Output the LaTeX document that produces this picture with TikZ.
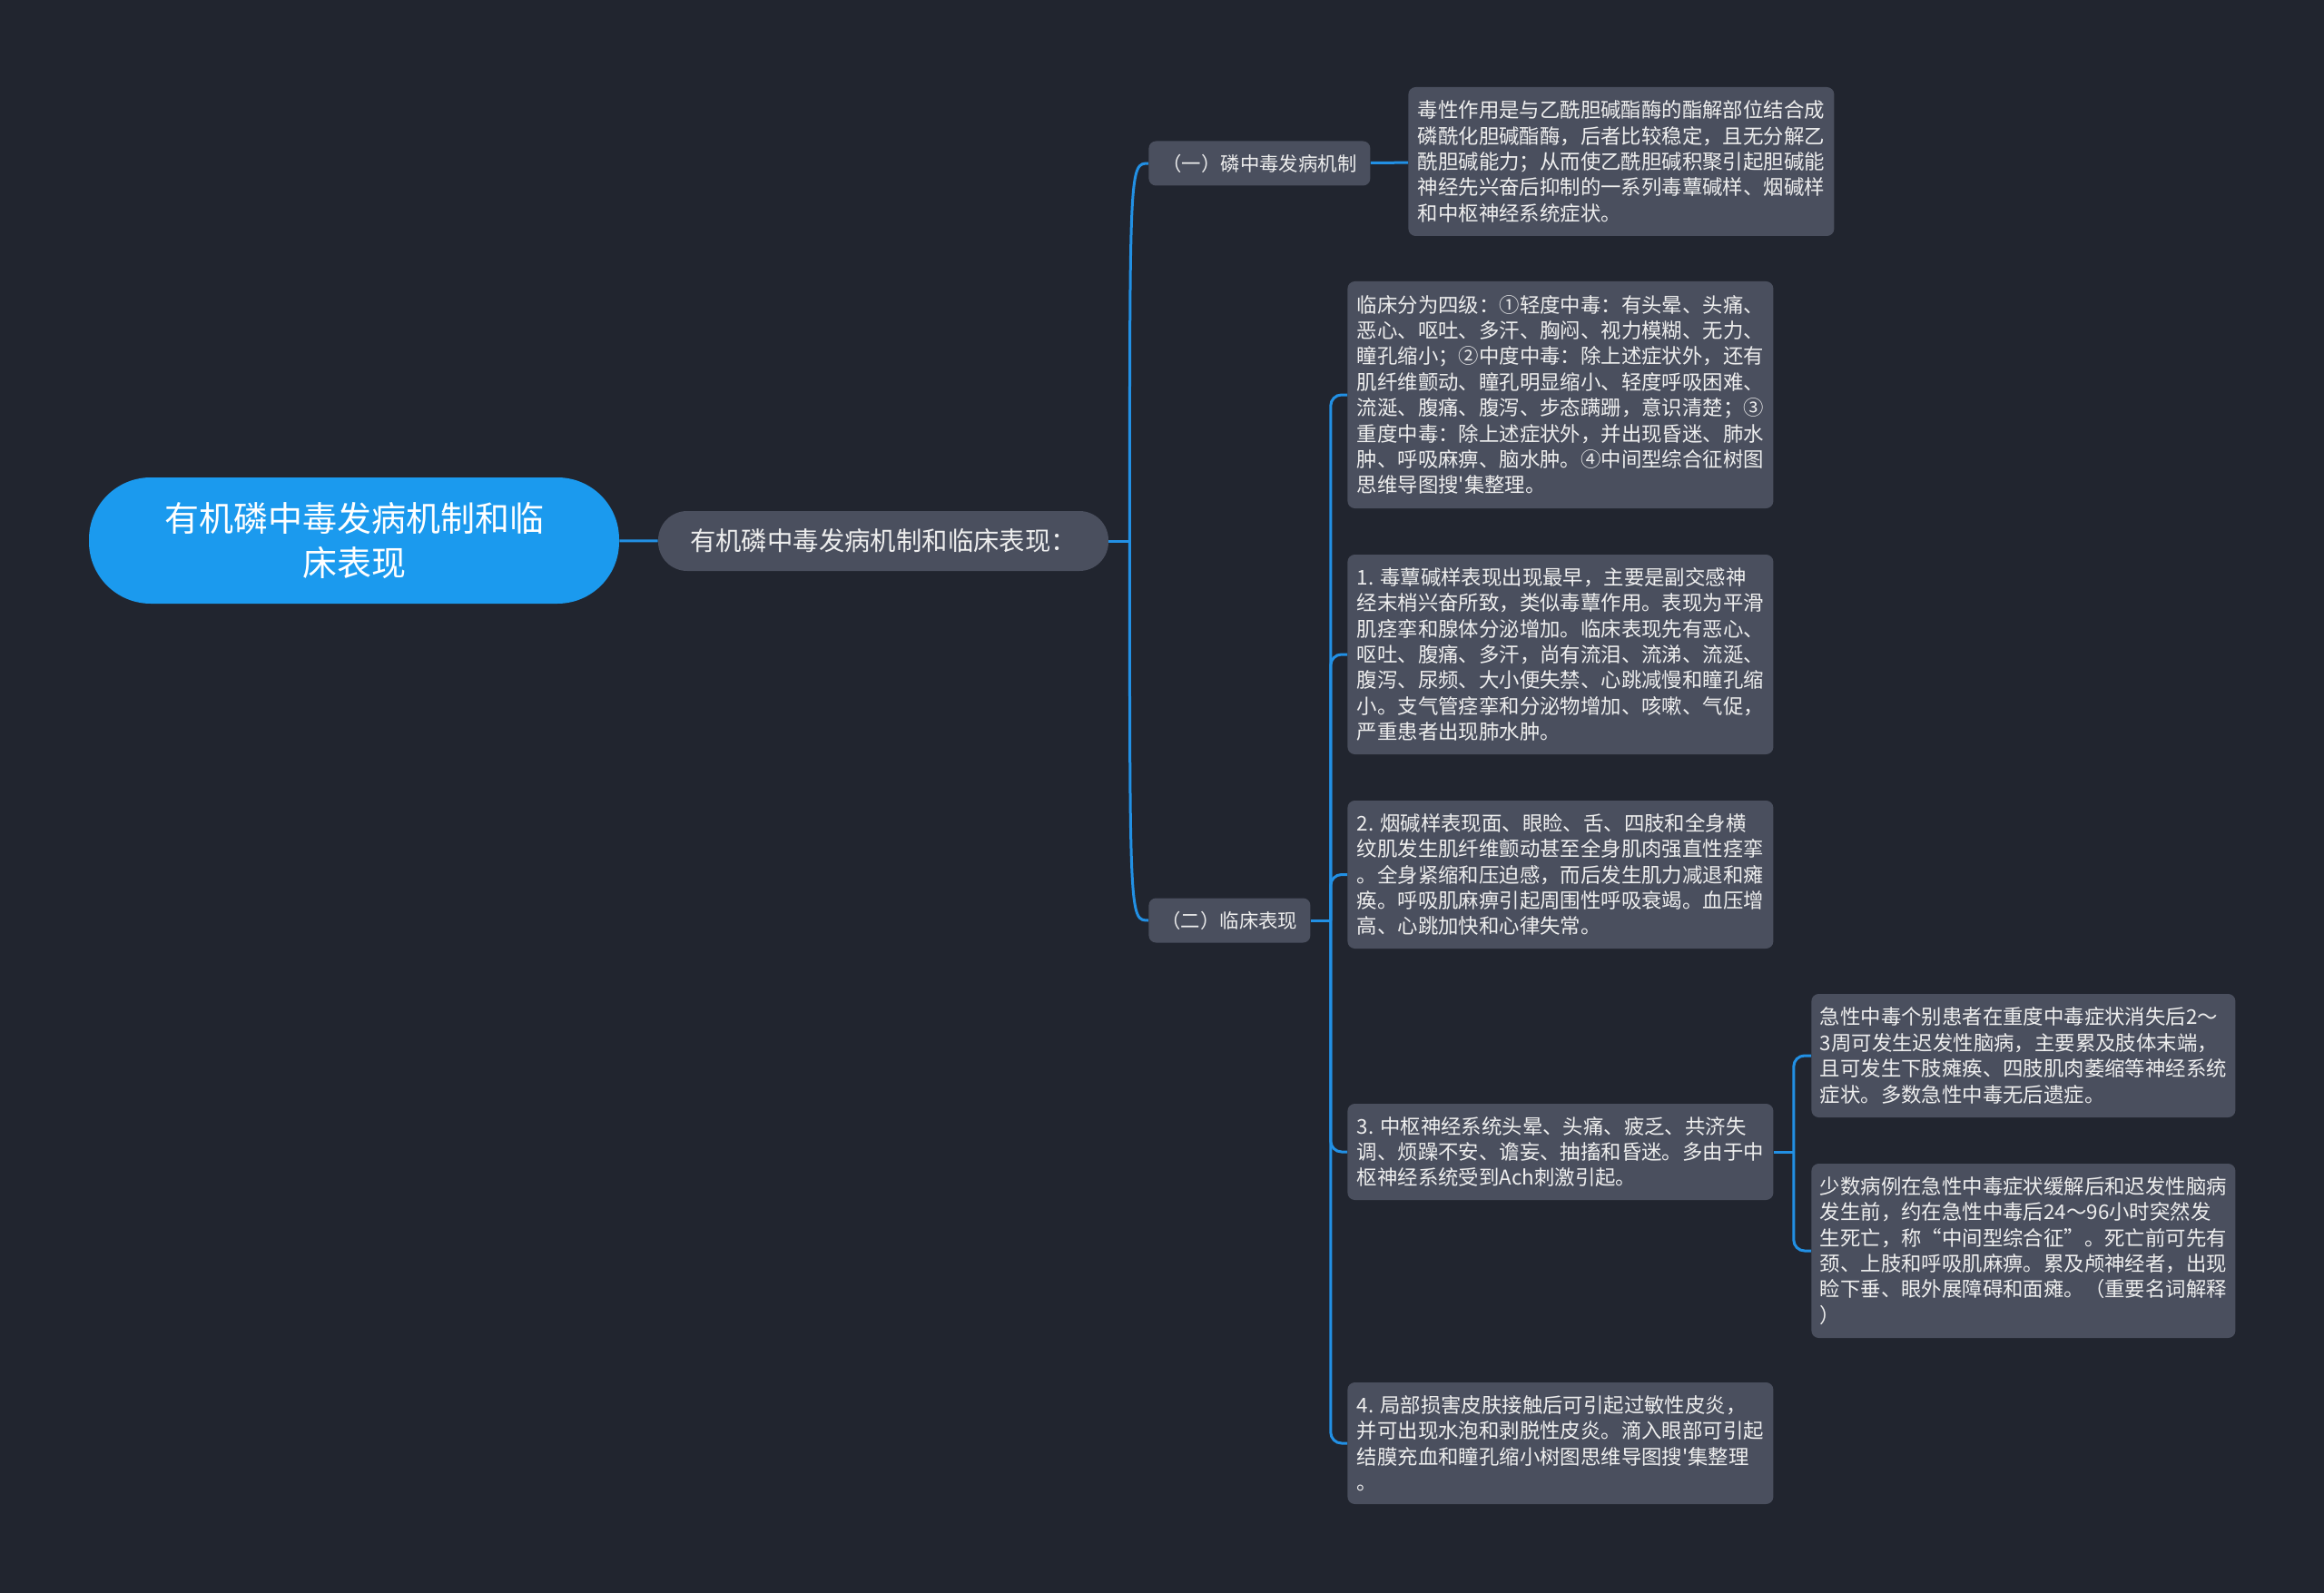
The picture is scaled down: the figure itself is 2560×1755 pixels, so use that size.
\documentclass[tikz,border=0pt]{standalone}
\usepackage{fontspec}
\usepackage{tikz}
\usetikzlibrary{positioning}
\newfontfamily\cjk{Noto Sans CJK SC}
\definecolor{BgNavy}{HTML}{21252F}
\definecolor{BoxGray}{HTML}{4A4F5E}
\definecolor{RootBlue}{HTML}{1B9AEE}
\definecolor{LinkBlue}{HTML}{2290E4}
\definecolor{TextWhite}{HTML}{EEEEEE}
\tikzset{
  % main topic
  rootnode/.style={rectangle,rounded corners=34pt,fill=RootBlue,text=white,
             minimum width=292pt,minimum height=69.5pt,align=center,
             font=\cjk\fontsize{19pt}{24.5pt}\selectfont},
  % first level
  topic/.style={rectangle,rounded corners=16pt,fill=BoxGray,text=TextWhite,
             minimum width=248pt,minimum height=33pt,align=center,
             font=\cjk\fontsize{14.2pt}{17pt}\selectfont},
  % second level
  sub/.style={rectangle,rounded corners=4pt,fill=BoxGray,text=TextWhite,
             minimum height=24.5pt,anchor=west,align=center,
             font=\cjk\fontsize{10.7pt}{13pt}\selectfont},
  % text boxes
  leaf/.style={rectangle,rounded corners=4pt,fill=BoxGray,text=TextWhite,
             minimum width=234.5pt,anchor=west,align=left,
             font=\cjk\fontsize{11.2pt}{14.2pt}\selectfont},
  % connector
  link/.style={draw=LinkBlue,line width=1.5pt},
  curvelink/.style={link,rounded corners=6pt}
}
\begin{document}
\begin{tikzpicture}[x=0.5pt,y=-0.5pt]
  \fill[BgNavy] (0,0) rectangle (2560,1755);
  \useasboundingbox (0,0) rectangle (2560,1755);

  \node[rootnode] (root) at (390,595.5) {有机磷中毒发病机制和临\\床表现};
  \node[topic] (main) at (973,596) {有机磷中毒发病机制和临床表现：};
  \node[sub,minimum width=122pt] (mech) at (1265,180) {（一）磷中毒发病机制};
  \node[sub,minimum width=89pt] (clin) at (1265,1014) {（二）临床表现};

  \node[leaf,minimum height=82pt] (mechtxt) at (1551,178) {毒性作用是与乙酰胆碱酯酶的酯解部位结合成\\磷酰化胆碱酯酶，后者比较稳定，且无分解乙\\酰胆碱能力；从而使乙酰胆碱积聚引起胆碱能\\神经先兴奋后抑制的一系列毒蕈碱样、烟碱样\\和中枢神经系统症状。};

  \node[leaf,minimum height=125pt] (grade) at (1484,435) {临床分为四级：①轻度中毒：有头晕、头痛、\\恶心、呕吐、多汗、胸闷、视力模糊、无力、\\瞳孔缩小；②中度中毒：除上述症状外，还有\\肌纤维颤动、瞳孔明显缩小、轻度呼吸困难、\\流涎、腹痛、腹泻、步态蹒跚，意识清楚；③\\重度中毒：除上述症状外，并出现昏迷、肺水\\肿、呼吸麻痹、脑水肿。④中间型综合征树图\\思维导图搜'集整理。};
  \node[leaf,minimum height=110pt] (musc) at (1484,721) {1. 毒蕈碱样表现出现最早，主要是副交感神\\经末梢兴奋所致，类似毒蕈作用。表现为平滑\\肌痉挛和腺体分泌增加。临床表现先有恶心、\\呕吐、腹痛、多汗，尚有流泪、流涕、流涎、\\腹泻、尿频、大小便失禁、心跳减慢和瞳孔缩\\小。支气管痉挛和分泌物增加、咳嗽、气促，\\严重患者出现肺水肿。};
  \node[leaf,minimum height=81.5pt] (nico) at (1484,963.5) {2. 烟碱样表现面、眼睑、舌、四肢和全身横\\纹肌发生肌纤维颤动甚至全身肌肉强直性痉挛\\。全身紧缩和压迫感，而后发生肌力减退和瘫\\痪。呼吸肌麻痹引起周围性呼吸衰竭。血压增\\高、心跳加快和心律失常。};
  \node[leaf,minimum height=53pt] (cns) at (1484,1269) {3. 中枢神经系统头晕、头痛、疲乏、共济失\\调、烦躁不安、谵妄、抽搐和昏迷。多由于中\\枢神经系统受到Ach刺激引起。};
  \node[leaf,minimum height=67pt] (skin) at (1484,1590) {4. 局部损害皮肤接触后可引起过敏性皮炎，\\并可出现水泡和剥脱性皮炎。滴入眼部可引起\\结膜充血和瞳孔缩小树图思维导图搜'集整理\\。};

  \node[leaf,minimum width=233.5pt,minimum height=68pt] (late) at (1995,1163) {急性中毒个别患者在重度中毒症状消失后2～\\3周可发生迟发性脑病，主要累及肢体末端，\\且可发生下肢瘫痪、四肢肌肉萎缩等神经系统\\症状。多数急性中毒无后遗症。};
  \node[leaf,minimum width=233.5pt,minimum height=96pt] (inter) at (1995,1378) {少数病例在急性中毒症状缓解后和迟发性脑病\\发生前，约在急性中毒后24～96小时突然发\\生死亡，称“中间型综合征”。死亡前可先有\\颈、上肢和呼吸肌麻痹。累及颅神经者，出现\\睑下垂、眼外展障碍和面瘫。（重要名词解释\\）};

  % connectors
  \draw[link] (root) -- (main);
  \draw[link] (main.east) -- ++(23,0) coordinate (j1);
  \draw[link] (j1) .. controls (j1 |- mech.west) .. (mech.west);
  \draw[link] (j1) .. controls (j1 |- clin.west) .. (clin.west);
  \draw[link] (mech) -- (mechtxt);

  \draw[link] (clin.east) -- ++(22,0) coordinate (j2);
  \draw[curvelink] (j2) |- (grade.west);
  \draw[curvelink] (j2) |- (musc.west);
  \draw[curvelink] (j2) |- (nico.west);
  \draw[curvelink] (j2) |- (cns.west);
  \draw[curvelink] (j2) |- (skin.west);

  \draw[link] (cns.east) -- ++(22,0) coordinate (j3);
  \draw[curvelink] (j3) |- (late.west);
  \draw[curvelink] (j3) |- (inter.west);
\end{tikzpicture}
\end{document}
